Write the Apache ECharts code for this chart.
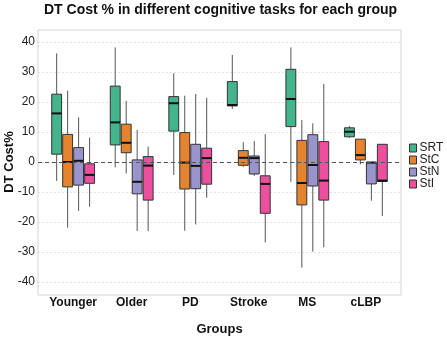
<!DOCTYPE html>
<html>
<head>
<meta charset="utf-8">
<script src="https://cdn.jsdelivr.net/npm/echarts@6/dist/echarts.min.js"></script>
<style>html,body{margin:0;padding:0;background:#fff;}#chart{width:447px;height:337px;}</style>
</head>
<body>
<div id="chart"></div>
<script>
const groups = ['Younger', 'Older', 'PD', 'Stroke', 'MS', 'cLBP'];
const tasks = ['SRT', 'StC', 'StN', 'StI'];
const yTicks = [-40, -30, -20, -10, 0, 10, 20, 30, 40];
// [min, q1, median, q3, max] for each group
const srt = [[-6.3, 2.6, 16.2, 22.6, 36.2], [-1.8, 5.7, 13.2, 25.3, 38.2], [-4.3, 10.3, 19.6, 21.8, 29.6], [17.7, 18.7, 19, 26.8, 35.7], [-6.6, 11.8, 21, 30.9, 38.2], [8, 8.4, 10.1, 11.4, 12]];
const stc = [[-21.9, -8.3, 0, 9.2, 23.8], [-3.8, 3.1, 6.4, 12.6, 20.4], [-22.9, -9, -0.2, 9.8, 22.1], [-1.6, -1.1, 1.4, 3.8, 6.6], [-35.2, -14.3, -7, 7.2, 14], [-0.8, 0.7, 2.3, 7.6, 7.6]];
const stn = [[-16.3, -7.7, 0.4, 4.8, 14.9], [-23, -10.6, -6.6, 0.7, 10.7], [-20.8, -8.9, -1.3, 5.9, 22.7], [-4.6, -4, 1.3, 2, 7], [-29.9, -8, -1, 9.1, 12.9], [-12.9, -7.3, -0.2, -0.1, -0.1]];
const sti = [[-14.9, -7.1, -4.3, -0.6, 8.1], [-23, -12.7, -1.2, 1.8, 5.1], [-11.9, -7.4, 1.3, 4.6, 21.4], [-26.8, -17.1, -7.3, -4.6, 9.3], [-28.4, -12.7, -6.2, 6.8, 26], [-18, -6.5, -6.2, 5.9, 5.9]];
const colors = ['#43b48c', '#e5832f', '#9a94cc', '#ec4f9d'];

const allData = [srt, stc, stn, sti];
const FONT = '"Liberation Sans", Arial, sans-serif';

function makeRender(k) {
  return function (params, api) {
    const x = api.value(0);
    const yMin = api.coord([x, api.value(1)])[1];
    const yQ1 = api.coord([x, api.value(2)])[1];
    const yMed = api.coord([x, api.value(3)])[1];
    const yQ3 = api.coord([x, api.value(4)])[1];
    const yMax = api.coord([x, api.value(5)])[1];
    const band = api.size([1, 0])[0];
    const slot = band * 0.75 / 4;
    const cx = api.coord([x, 0])[0] + (k - 1.5) * slot;
    const hw = slot * 0.9 / 2;
    const wStyle = { stroke: '#555', lineWidth: 1 };
    return {
      type: 'group',
      children: [
        { type: 'line', shape: { x1: cx, y1: yMax, x2: cx, y2: yQ3 }, style: wStyle },
        { type: 'line', shape: { x1: cx, y1: yQ1, x2: cx, y2: yMin }, style: wStyle },
        { type: 'rect', shape: { x: cx - hw, y: yQ3, width: 2 * hw, height: yQ1 - yQ3 }, style: { fill: api.visual('color'), stroke: '#333', lineWidth: 1 } },
        { type: 'line', shape: { x1: cx - hw, y1: yMed, x2: cx + hw, y2: yMed }, style: { stroke: '#111', lineWidth: 2 } }
      ]
    };
  };
}

const series = tasks.map((t, k) => {
  const s = {
    name: t,
    type: 'custom',
    xAxisIndex: 0,
    yAxisIndex: 0,
    itemStyle: { color: colors[k], borderColor: '#333', borderWidth: 1 },
    renderItem: makeRender(k),
    encode: { x: 0, y: [1, 2, 3, 4, 5] },
    data: groups.map((g, i) => [i + 1].concat(allData[k][i]))
  };
  if (k === 0) {
    s.markLine = {
      silent: true, symbol: 'none', animation: false,
      label: { show: false },
      lineStyle: { type: [4, 3], color: '#555', width: 1 },
      data: [{ yAxis: 0 }]
    };
  }
  return s;
});

const chart = echarts.init(document.getElementById('chart'), null, { renderer: 'canvas' });
chart.setOption({
  animation: false,
  backgroundColor: '#fff',
  textStyle: { fontFamily: FONT },
  title: {
    text: 'DT Cost % in different cognitive tasks for each group',
    left: 39, top: -2,
    textStyle: { fontFamily: FONT, fontSize: 14, fontWeight: 'bold', color: '#111' }
  },
  legend: {
    orient: 'vertical', left: 409, top: 142, padding: 0,
    itemWidth: 7, itemHeight: 8, itemGap: 0,
    textStyle: { fontFamily: FONT, fontSize: 12, color: '#222', padding: [0, 0, 0, -2] },
    data: tasks.map((t, k) => ({ name: t, icon: 'rect', itemStyle: { color: colors[k], borderColor: '#333', borderWidth: 1 } }))
  },
  grid: [
    { left: 38, right: 46, top: 42, bottom: 55, show: false, containLabel: false, outerBoundsMode: 'none' },
    { left: 38, right: 46, top: 30, bottom: 42, show: true, borderColor: '#d4d4d4', borderWidth: 1, backgroundColor: 'transparent', containLabel: false, outerBoundsMode: 'none' }
  ],
  xAxis: [
    {
      type: 'value', gridIndex: 0, min: 0.4, max: 6.6,
      name: 'Groups', nameLocation: 'middle', nameGap: 41, nameMoveOverlap: false,
      nameTextStyle: { fontFamily: FONT, fontSize: 13, fontWeight: 'bold', color: '#111' },
      axisLine: { show: false }, axisTick: { show: false }, splitLine: { show: false },
      axisLabel: {
        customValues: groups.map((g, i) => i + 1),
        formatter: v => groups[Math.round(v) - 1] || '',
        margin: 15, fontFamily: FONT, fontSize: 12, fontWeight: 'bold', color: '#111'
      }
    },
    { type: 'value', gridIndex: 1, show: false, min: 0, max: 1 }
  ],
  yAxis: [
    {
      type: 'value', gridIndex: 0, min: -40, max: 40, interval: 10,
      name: 'DT Cost%', nameLocation: 'middle', nameGap: 22, nameMoveOverlap: false,
      nameTextStyle: { fontFamily: FONT, fontSize: 13, fontWeight: 'bold', color: '#111' },
      axisLine: { show: false }, axisTick: { show: false },
      axisLabel: { margin: 3, fontFamily: FONT, fontSize: 12, color: '#222' },
      splitLine: { show: true, lineStyle: { type: [2, 2], color: '#e2e2e2', width: 1 } }
    },
    { type: 'value', gridIndex: 1, show: false, min: 0, max: 1 }
  ],
  series: series
});
</script>
</body>
</html>
